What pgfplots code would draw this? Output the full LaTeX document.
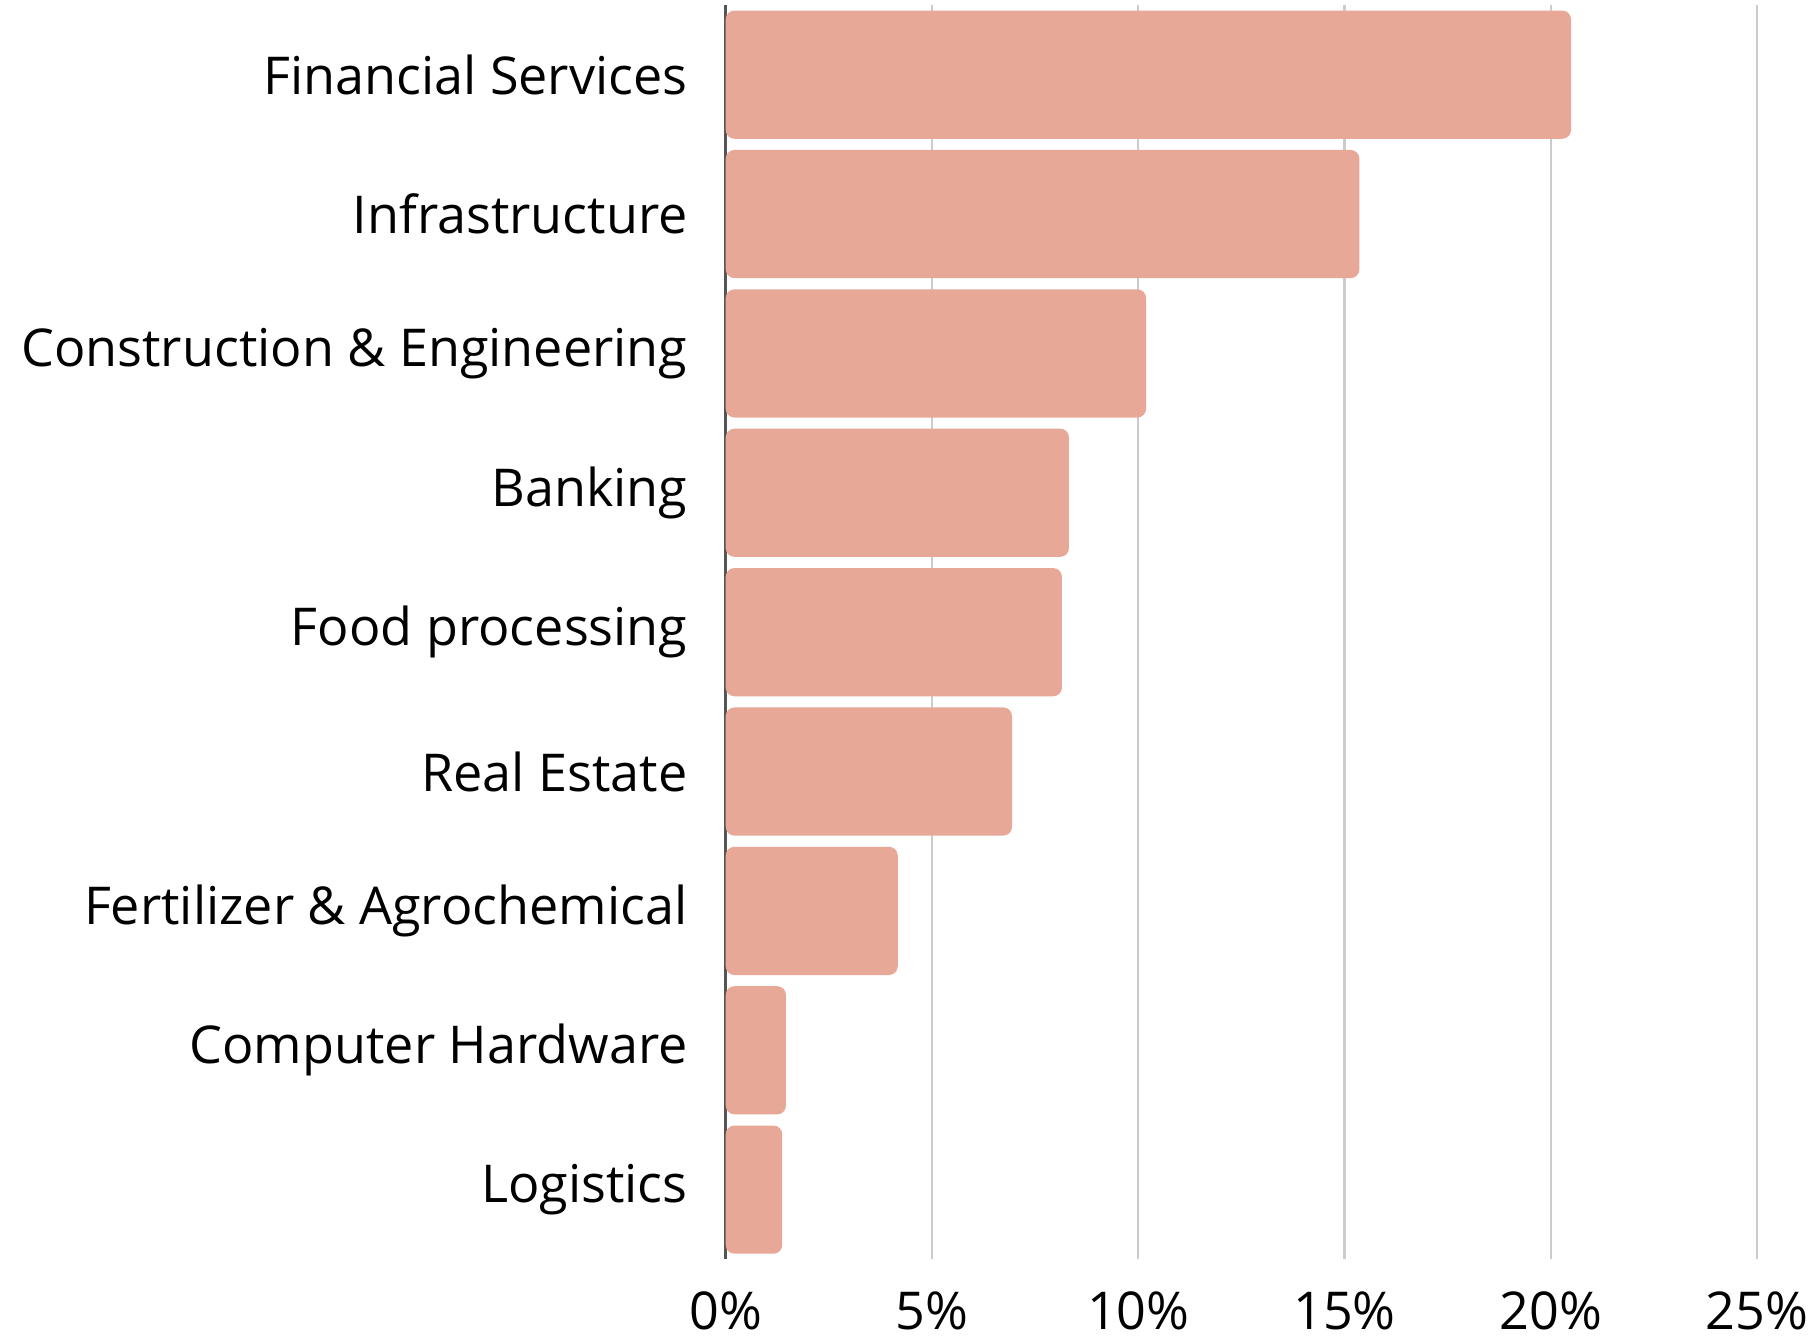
\documentclass[border=0pt]{standalone}
\usepackage{fontspec}
\setmainfont{Open Sans}
\usepackage{pgfplots}
\usepackage{pgfplotstable}
\pgfplotsset{compat=1.18}
\definecolor{barfill}{RGB}{232,168,152}
\definecolor{gridgray}{RGB}{204,204,204}
\definecolor{axisgray}{RGB}{85,85,85}

% sector shares, top to bottom (y = 8 is the top bar)
\pgfplotstableread{
y share
8 20.49
7 15.36
6 10.19
5 8.32
4 8.15
3 6.94
2 4.17
1 1.46
0 1.37
}\sectors

\begin{document}
\begin{tikzpicture}
% bars are plotted one unit to the right and the axis starts at 1,
% so the rounded left ends of the bars are clipped away at the 0% line
\begin{axis}[
    at={(0,0)}, anchor=south west,
    scale only axis,
    width=10.36cm, height=12.6cm,
    set layers,
    xbar, bar shift=0pt, bar width=0.92,
    xmin=1, xmax=26,
    ymin=-0.5, ymax=8.5,
    xtick={1,6,11,16,21,26},
    xticklabels={0\%,5\%,10\%,15\%,20\%,25\%},
    ytick={0,...,8},
    yticklabels={Logistics,Computer Hardware,Fertilizer \& Agrochemical,Real Estate,Food processing,Banking,Construction \& Engineering,Infrastructure,Financial Services},
    major tick length=0pt,
    tick label style={font=\fontsize{14.9}{18}\selectfont},
    xticklabel style={yshift=-0.2cm},
    yticklabel style={xshift=-0.26cm},
    axis lines=left,
    x axis line style={draw=none},
    y axis line style={axisgray, line width=0.8pt, -},
    xmajorgrids,
    grid style={gridgray, line width=0.6pt},
    clip=true,
]
\addplot[draw=none, fill=barfill, rounded corners=2.5pt] table[x expr=\thisrow{share}+1, y=y] {\sectors};
\end{axis}
\path (-7.29,-0.72) rectangle (10.88,12.65);
\end{tikzpicture}
\end{document}
